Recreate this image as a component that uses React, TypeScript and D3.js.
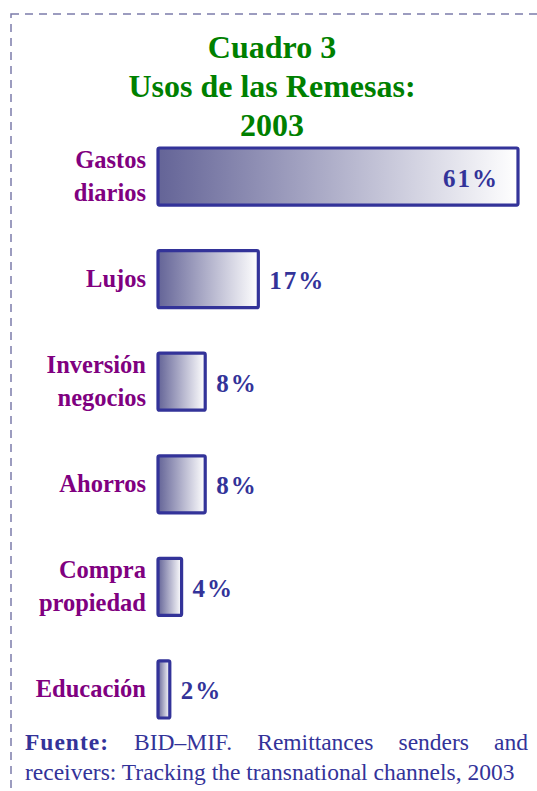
import * as d3 from 'd3';
import React, { useEffect, useRef } from 'react';

// chart data
const categories = [['Gastos', 'diarios'], ['Lujos'], ['Inversión', 'negocios'], ['Ahorros'], ['Compra', 'propiedad'], ['Educación']];
const values = [61, 17, 8, 8, 4, 2];
const titleLines = ['Cuadro 3', 'Usos de las Remesas:', '2003'];
const sourceLine1 = ['BID–MIF.', 'Remittances', 'senders', 'and'];
const sourceLine2 = 'receivers: Tracking the transnational channels, 2003';

const W = 537;
const H = 791;
const serif = "'Liberation Serif', 'Times New Roman', serif";

export default function App() {
    const ref = useRef<SVGSVGElement>(null);

    useEffect(() => {
        const svg = d3.select(ref.current);
        svg.selectAll('*').remove();
        svg.attr('font-family', serif);

        const defs = svg.append('defs');
        const grad = defs.append('linearGradient')
            .attr('id', 'barGrad')
            .attr('x1', '0').attr('x2', '1').attr('y1', '0').attr('y2', '0');
        grad.append('stop').attr('offset', '0%').attr('stop-color', '#646497');
        grad.append('stop').attr('offset', '100%').attr('stop-color', '#ffffff');

        // dashed frame
        svg.append('rect')
            .attr('x', 11).attr('y', 14)
            .attr('width', 600).attr('height', 900)
            .attr('fill', 'none')
            .attr('stroke', '#7c7caa')
            .attr('stroke-width', 1.5)
            .attr('stroke-dasharray', '8 6');

        // title
        svg.append('g').selectAll('text')
            .data(titleLines)
            .enter()
            .append('text')
            .attr('x', 272)
            .attr('y', (d, i) => 58 + i * 39)
            .attr('text-anchor', 'middle')
            .attr('font-weight', 'bold')
            .attr('font-size', 32)
            .attr('fill', '#008000')
            .text(d => d);

        const x = d3.scaleLinear().domain([0, 61]).range([0, 360]);
        const y = d3.scaleBand<number>()
            .domain(d3.range(values.length))
            .range([148, 718])
            .paddingInner(0.444)
            .paddingOuter(0);
        const x0 = 158;

        const rows = svg.append('g').selectAll('g')
            .data(values)
            .enter()
            .append('g');

        rows.append('rect')
            .attr('x', x0)
            .attr('y', (d, i) => y(i)!)
            .attr('width', d => x(d))
            .attr('height', y.bandwidth())
            .attr('rx', 1.5)
            .attr('fill', 'url(#barGrad)')
            .attr('stroke', '#333399')
            .attr('stroke-width', 3.2);

        rows.append('text')
            .attr('x', (d, i) => i === 0 ? x0 + x(d) - 19 : x0 + x(d) + 11)
            .attr('y', (d, i) => y(i)! + y.bandwidth() / 2 + 10)
            .attr('text-anchor', (d, i) => i === 0 ? 'end' : 'start')
            .attr('font-weight', 'bold')
            .attr('font-size', 25)
            .attr('letter-spacing', 2)
            .attr('fill', '#333399')
            .text(d => d + '%');

        // category labels
        rows.each(function (d, i) {
            const lines = categories[i];
            const cy = y(i)! + y.bandwidth() / 2;
            const t = d3.select(this).append('text')
                .attr('text-anchor', 'end')
                .attr('font-weight', 'bold')
                .attr('font-size', 24.5)
                .attr('fill', '#800080');
            lines.forEach((l, j) => {
                t.append('tspan')
                    .attr('x', 146)
                    .attr('y', cy + 8 + (j - (lines.length - 1) / 2) * 33)
                    .text(l);
            });
        });

        // source note, first line justified
        const foot = svg.append('g')
            .attr('font-size', 23.5)
            .attr('fill', '#333399');
        const left = 25;
        const right = 528;
        const fuente = foot.append('text')
            .attr('x', left).attr('y', 750)
            .attr('font-weight', 'bold')
            .attr('letter-spacing', 1)
            .text('Fuente:');
        const words = foot.selectAll('text.w')
            .data(sourceLine1)
            .enter()
            .append('text')
            .attr('class', 'w')
            .attr('y', 750)
            .text(d => d);
        const widths: number[] = [];
        words.each(function () { widths.push((this as SVGTextElement).getComputedTextLength()); });
        const fw = (fuente.node() as SVGTextElement).getComputedTextLength();
        const gap = (right - left - fw - d3.sum(widths)) / sourceLine1.length;
        let pos = left + fw + gap;
        const starts = widths.map(w => { const s = pos; pos += w + gap; return s; });
        words.attr('x', (d, i) => starts[i]);

        foot.append('text')
            .attr('x', left).attr('y', 780)
            .text(sourceLine2);
    }, []);

    return (
        <div style={{ position: 'absolute', left: 0, top: 0 }}>
            <svg ref={ref} width={W} height={H} style={{ display: 'block', background: '#fff' }}></svg>
        </div>
    );
}
